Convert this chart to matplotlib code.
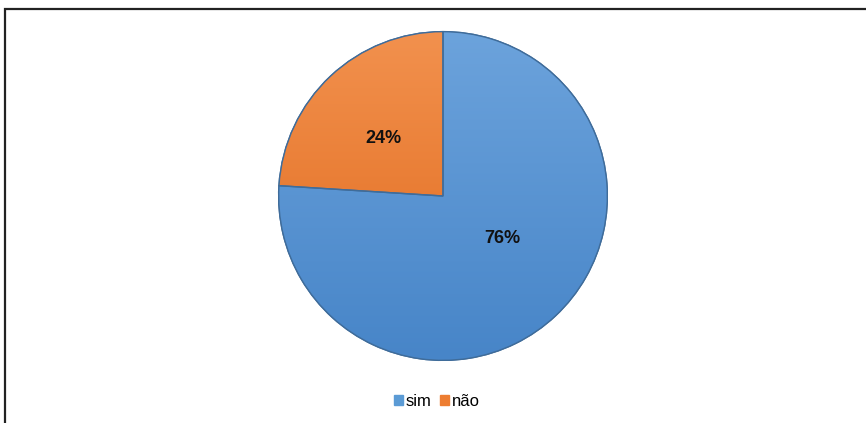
import numpy as np
import matplotlib.pyplot as plt
from matplotlib.colors import LinearSegmentedColormap
from matplotlib.patches import Rectangle, Wedge

labels = ["sim", "não"]
values = [76, 24]
# (top colour, bottom colour) of the vertical gradient in each slice
fills = [("#6ca3dc", "#4785c8"), ("#f2914e", "#e0681a")]
legend_colors = ["#5b9bd5", "#ed7d31"]
edge_color = "#3f6c9a"

fig = plt.figure(figsize=(8.66, 4.23), dpi=100)

# outer frame of the chart area
fig.patches.append(Rectangle((5 / 866, -0.2), 1.2, 1.2 - 9 / 423,
                             transform=fig.transFigure, fill=False,
                             edgecolor="#222222", linewidth=1.6))

ax = fig.add_axes([276 / 866, 61 / 423, 334 / 866, 332 / 423])
wedges, texts, autotexts = ax.pie(
    values, startangle=90, counterclock=False, radius=1.0,
    colors=legend_colors, autopct="%1.0f%%", pctdistance=0.5,
    wedgeprops=dict(edgecolor=edge_color, linewidth=1.0),
    textprops=dict(fontsize=13, fontweight="bold", color="#111111",
                   family="Liberation Sans"))

# gradient fill clipped to each wedge
grad = np.linspace(1, 0, 256).reshape(-1, 1)
for w, (top, bottom) in zip(wedges, fills):
    cmap = LinearSegmentedColormap.from_list("g", [bottom, top])
    im = ax.imshow(grad, cmap=cmap, extent=[-1, 1, -1, 1], aspect="auto",
                   zorder=w.get_zorder() + 0.1, interpolation="bilinear")
    im.set_clip_path(w)
    w.set_facecolor("none")
    outline = Wedge(w.center, w.r, w.theta1, w.theta2, facecolor="none",
                    edgecolor=edge_color, linewidth=1.0,
                    zorder=im.get_zorder() + 0.1)
    ax.add_patch(outline)

for t in autotexts:
    t.set_zorder(10)
# label placement inside each slice
autotexts[0].set_position((0.36, -0.26))
autotexts[1].set_position((-0.36, 0.35))

ax.set_xlim(-1.01, 1.01)
ax.set_ylim(-1.01, 1.01)
ax.set_aspect("equal")
ax.axis("off")

handles = [Rectangle((0, 0), 1, 1, facecolor=c, edgecolor=c) for c in legend_colors]
fig.legend(handles, labels, loc="center", bbox_to_anchor=(437 / 866, 1 - 401 / 423),
           ncol=2, frameon=False, handlelength=0.55, handleheight=0.55,
           handletextpad=0.15, columnspacing=0.5,
           prop={"family": "Liberation Sans", "size": 12})

fig.savefig("out.png", dpi=100)
